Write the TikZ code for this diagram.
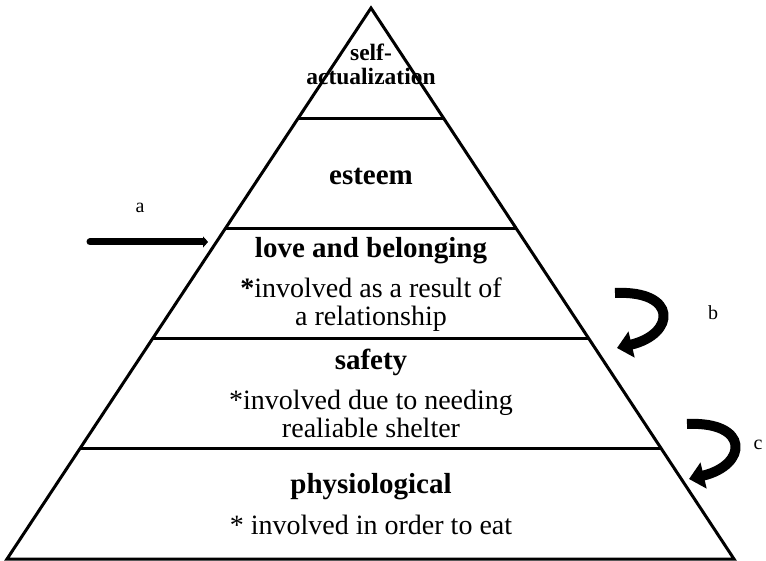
\documentclass[tikz,border=0pt]{standalone}
\usepackage{fontspec}
\setmainfont{Liberation Serif}
\usetikzlibrary{arrows.meta,calc}

\begin{document}
\begin{tikzpicture}[x=1pt,y=-1pt,
  edge/.style={line width=3pt},
  level/.style={font=\fontsize{29}{32}\selectfont\bfseries},
  note/.style={font=\fontsize{28}{28}\selectfont,align=center},
  tag/.style={font=\fontsize{20}{20}\selectfont},
  push/.style={-{Triangle[length=5pt,width=11pt]},line width=7pt,line cap=round},
  curl/.style={-{Triangle[length=15pt,width=26pt]},line width=10pt}
]
\useasboundingbox (0,0) rectangle (766,561);
% pyramid
\coordinate (top) at (371,8);
\coordinate (bl) at (7,559);
\coordinate (br) at (734,559);
\draw[edge] (top) -- (bl) -- (br) -- cycle;
\foreach \t in {0.2,0.4,0.6,0.8}
  \draw[edge] ($(top)!\t!(bl)$) -- ($(top)!\t!(br)$);
% levels
\node[font=\fontsize{23.5}{24}\selectfont\bfseries,align=center] (selfact) at (371,64) {self-\\actualization};
\node[level] (esteem) at (371,176) {esteem};
\node[level] (love) at (371,251) {love and belonging};
\node[note] (lovenote) at (371,305) {\textbf{*}involved as a result of\\a relationship};
\node[level] (safety) at (371,362) {safety};
\node[note] (safenote) at (371,414) {*involved due to needing\\realiable shelter};
\node[level] (physio) at (371,487) {physiological};
\node[note] (physnote) at (371,525) {* involved in order to eat};
% arrows and tags
\node[tag] (a) at (140,208) {a};
\node[tag] (b) at (713,313) {b};
\node[tag] (c) at (758,445) {c};
\coordinate (a-from) at (90,242);
\coordinate (a-to) at (208,242);
\draw[push] (a-from) -- (a-to);
\coordinate (b-from) at (615,293);
\coordinate (b-to) at (617,348);
\draw[curl] (b-from) .. controls (678,290) and (676,334) .. (b-to);
\coordinate (c-from) at (687,424);
\coordinate (c-to) at (689,479);
\draw[curl] (c-from) .. controls (750,421) and (748,465) .. (c-to);
\end{tikzpicture}
\end{document}
